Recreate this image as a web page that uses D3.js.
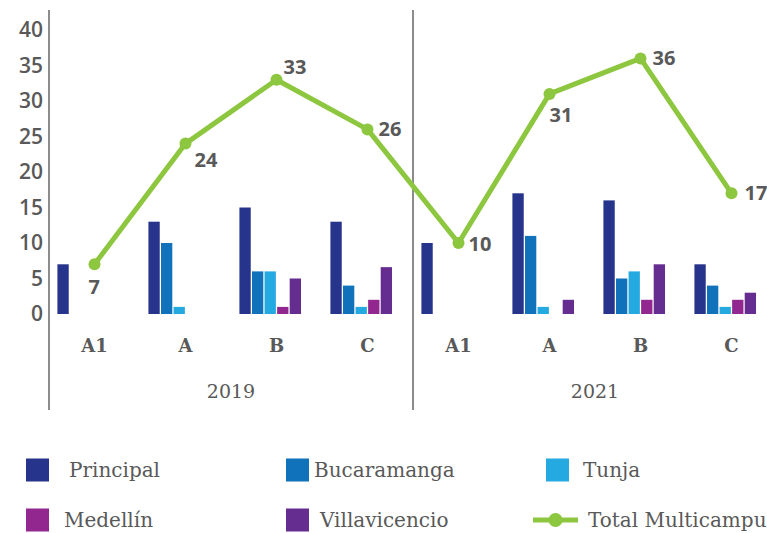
<!DOCTYPE html>
<meta charset="utf-8">
<head>
    <script src="https://d3js.org/d3.v7.min.js"></script>
    <style>
        body { margin: 0; background: #fff; }
    </style>
</head>
<body>
<div id="chart"></div>
</body>
<script type="text/javascript">

    // categories
    var years = ["2019", "2021"];
    var levels = ["A1", "A", "B", "C"];
    var series = ["Principal", "Bucaramanga", "Tunja", "Medellín", "Villavicencio"];

    // bar values per series, in order 2019 A1..C then 2021 A1..C
    var principal     = [7, 13, 15, 13, 10, 17, 16, 7];
    var bucaramanga   = [0, 10, 6, 4, 0, 11, 5, 4];
    var tunja         = [0, 1, 6, 1, 0, 1, 6, 1];
    var medellin      = [0, 0, 1, 2, 0, 0, 2, 2];
    var villavicencio = [0, 0, 5, 6.6, 0, 2, 7, 3];
    var total         = [7, 24, 33, 26, 10, 31, 36, 17];

    var yTicks = [0, 5, 10, 15, 20, 25, 30, 35, 40];

    var colors = ["#27348b", "#1072ba", "#24a9e1", "#92278f", "#662d91"];
    var lineColor = "#8dc63f";
    var textColor = "#595959";

    var values = [principal, bucaramanga, tunja, medellin, villavicencio];

    var keys = [];
    years.forEach(function (yr) { levels.forEach(function (l) { keys.push(yr + "|" + l); }); });

    var W = 767, H = 533;
    var plotLeft = 49, plotRight = 777, plotTop = 30, plotBase = 314;

    var svg = d3.select("#chart").append("svg")
        .attr("width", W).attr("height", H)
        .style("font-family", "'Open Sans', sans-serif");

    var x0 = d3.scaleBand().domain(keys).range([plotLeft, plotRight])
        .paddingInner(0.185).paddingOuter(0.0925);
    // sixth slot stays empty (the total goes as a line)
    var x1 = d3.scaleBand().domain(series.concat(["Total"])).range([0, x0.bandwidth()])
        .paddingInner(0.1);
    var y = d3.scaleLinear().domain([0, 40]).range([plotBase, plotTop]);
    var step = x0.step();
    function cx(i) { return x0(keys[i]) + x0.bandwidth() / 2; }

    // y axis labels
    var yAxis = svg.append("g")
        .attr("transform", "translate(43,0)")
        .call(d3.axisLeft(y).tickValues(yTicks).tickSize(0).tickPadding(0));
    yAxis.select(".domain").remove();
    yAxis.selectAll("text")
        .style("font-family", "'Open Sans', sans-serif")
        .style("font-size", "21px")
        .style("font-weight", 600)
        .style("fill", textColor);

    // bars
    series.forEach(function (s, si) {
        svg.append("g").selectAll("rect")
            .data(values[si])
            .join("rect")
            .attr("x", function (d, i) { return x0(keys[i]) + x1(s); })
            .attr("y", function (d) { return y(d); })
            .attr("width", x1.bandwidth())
            .attr("height", function (d) { return y(0) - y(d); })
            .attr("fill", colors[si]);
    });

    // category separators
    var seps = [0, 4, 8].map(function (i) { return plotLeft + i * step; });
    svg.append("g").selectAll("line")
        .data(seps)
        .join("line")
        .attr("x1", function (d) { return d; }).attr("x2", function (d) { return d; })
        .attr("y1", 10).attr("y2", 410)
        .attr("stroke", "#8c8c8c").attr("stroke-width", 2);

    // level labels
    svg.append("g").selectAll("text")
        .data(keys)
        .join("text")
        .attr("x", function (d, i) { return cx(i); })
        .attr("y", 345)
        .attr("text-anchor", "middle")
        .attr("dominant-baseline", "central")
        .style("font-family", "'DejaVu Serif', serif")
        .style("font-size", "18px")
        .style("font-weight", "bold")
        .style("fill", textColor)
        .text(function (d) { return d.split("|")[1]; });

    // year labels
    svg.append("g").selectAll("text")
        .data(years)
        .join("text")
        .attr("x", function (d, i) { return plotLeft + (i * 4 + 2) * step; })
        .attr("y", 391)
        .attr("text-anchor", "middle")
        .attr("dominant-baseline", "central")
        .style("font-family", "'DejaVu Serif', serif")
        .style("font-size", "19px")
        .style("fill", textColor)
        .text(function (d) { return d; });

    // total line
    var line = d3.line()
        .x(function (d, i) { return cx(i); })
        .y(function (d) { return y(d); });
    svg.append("path")
        .datum(total)
        .attr("d", line)
        .attr("fill", "none")
        .attr("stroke", lineColor)
        .attr("stroke-width", 5)
        .attr("stroke-linejoin", "round");
    svg.append("g").selectAll("circle")
        .data(total)
        .join("circle")
        .attr("cx", function (d, i) { return cx(i); })
        .attr("cy", function (d) { return y(d); })
        .attr("r", 6)
        .attr("fill", lineColor);

    // value label offsets from each point
    var labelOffsets = [[-6, 22], [9, 16], [7, -13], [11, -1], [10, 0], [0, 21], [12, -1], [13, -1]];
    svg.append("g").selectAll("text")
        .data(total)
        .join("text")
        .attr("x", function (d, i) { return cx(i) + labelOffsets[i][0]; })
        .attr("y", function (d, i) { return y(d) + labelOffsets[i][1]; })
        .attr("dominant-baseline", "central")
        .style("font-size", "20px")
        .style("font-weight", "bold")
        .style("fill", textColor)
        .text(function (d) { return d; });

    // legend
    var legendItems = [
        {name: "Principal", color: colors[0], x: 26, y: 470, tx: 69},
        {name: "Bucaramanga", color: colors[1], x: 286, y: 470, tx: 314},
        {name: "Tunja", color: colors[2], x: 546, y: 470, tx: 583},
        {name: "Medellín", color: colors[3], x: 26, y: 520, tx: 64},
        {name: "Villavicencio", color: colors[4], x: 286, y: 520, tx: 320},
        {name: "Total Multicampus", color: lineColor, x: 533, y: 520, tx: 588, line: true}
    ];
    var lg = svg.append("g");
    legendItems.forEach(function (it) {
        if (it.line) {
            lg.append("line")
                .attr("x1", it.x).attr("x2", it.x + 45)
                .attr("y1", it.y).attr("y2", it.y)
                .attr("stroke", it.color).attr("stroke-width", 5);
            lg.append("circle")
                .attr("cx", it.x + 22.5).attr("cy", it.y).attr("r", 7)
                .attr("fill", it.color);
        } else {
            lg.append("rect")
                .attr("x", it.x).attr("y", it.y - 11.5)
                .attr("width", 23).attr("height", 23)
                .attr("fill", it.color);
        }
        lg.append("text")
            .attr("x", it.tx).attr("y", it.y)
            .attr("dominant-baseline", "central")
            .style("font-family", "'DejaVu Serif', serif")
            .style("font-size", "20px")
            .style("fill", textColor)
            .text(it.name);
    });

</script>
</html>
